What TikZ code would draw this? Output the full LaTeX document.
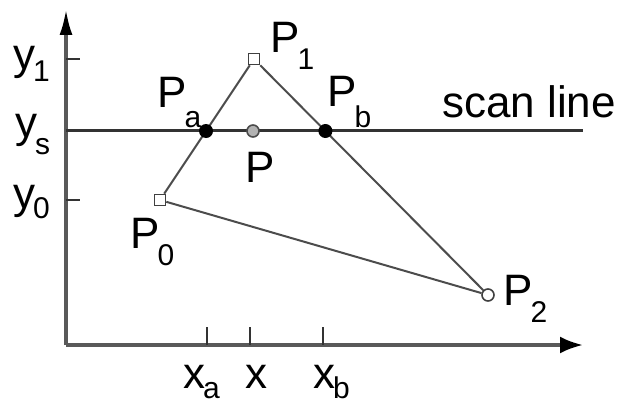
\documentclass[tikz,border=0pt]{standalone}
\usepackage{fontspec}
\setmainfont{Liberation Sans}
\usetikzlibrary{arrows.meta}
\newcommand\subsc[2]{\kern-2pt\raisebox{-#1pt}{\fontsize{30}{30}\selectfont #2}}
\begin{document}
\begin{tikzpicture}[x=1pt,y=-1pt,
  lbl/.style={anchor=base west,inner sep=0pt,font=\fontsize{44}{44}\selectfont},
  axis/.style={line width=3.5pt,draw=black!65},
  tick/.style={line width=2.5pt,draw=black!80},
  scanl/.style={line width=3pt,draw=black!80},
  edge/.style={line width=2pt,draw=black!70},
  vsq/.style={draw=black!75,line width=1.6pt,fill=white,rectangle,minimum size=11pt,inner sep=0pt},
  vci/.style={draw=black!75,line width=1.6pt,fill=white,circle,minimum size=12pt,inner sep=0pt},
  hit/.style={fill=black,circle,minimum size=14pt,inner sep=0pt},
  mid/.style={draw=black!70,line width=1.6pt,fill=black!30,circle,minimum size=12pt,inner sep=0pt}]
\useasboundingbox (0,0) rectangle (628,406);
% axes
\coordinate (O) at (66,345);
\coordinate (Ytop) at (66,9);
\coordinate (Xend) at (583,345);
\draw[axis,-{Latex[length=26pt,width=13pt,color=black]}] (O) -- (Ytop);
\draw[axis,-{Latex[length=23pt,width=17pt,color=black]}] (O) -- (Xend);
% scan line
\coordinate (S1) at (66,131);
\coordinate (S2) at (583,131);
\draw[scanl] (S1) -- (S2);
% triangle vertices
\coordinate (p0) at (160,200);
\coordinate (p1) at (254,59);
\coordinate (p2) at (488,295);
\coordinate (pa) at (intersection of p0--p1 and S1--S2);
\coordinate (pb) at (intersection of p1--p2 and S1--S2);
\coordinate (pm) at (253,131);
% y ticks
\coordinate (ty1) at (66,59); \coordinate (ty1e) at (80,59);
\coordinate (ty0) at (66,200); \coordinate (ty0e) at (80,200);
\draw[tick] (ty1) -- (ty1e);
\draw[tick] (ty0) -- (ty0e);
% x ticks
\coordinate (txa) at (207,345); \coordinate (txae) at (207,327);
\coordinate (tx) at (250,345); \coordinate (txe) at (250,327);
\coordinate (txb) at (323,345); \coordinate (txbe) at (323,327);
\draw[tick] (txa) -- (txae);
\draw[tick] (tx) -- (txe);
\draw[tick] (txb) -- (txbe);
% markers
\node[vsq] (P0) at (p0) {};
\node[vsq] (P1) at (p1) {};
\node[vci] (P2) at (p2) {};
\draw[edge] (P0) -- (P1);
\draw[edge] (P1) -- (P2);
\draw[edge] (P2) -- (P0);
\node[hit] (Pa) at (pa) {};
\node[hit] (Pb) at (pb) {};
\node[mid] (Pm) at (pm) {};
% labels
\node[lbl] (ly1) at (13,70) {y\subsc{12}{1}};
\node[lbl] (lys) at (15,138) {y\subsc{17}{s}};
\node[lbl] (ly0) at (13,208) {y\subsc{10}{0}};
\node[lbl] (lP1) at (270,53) {P\subsc{17}{1}};
\node[lbl] (lPa) at (157,108) {P\subsc{20}{a}};
\node[lbl] (lP) at (245,182) {P};
\node[lbl] (lPb) at (327,107) {P\subsc{21}{b}};
\node[lbl] (lP0) at (130,248) {P\subsc{17}{0}};
\node[lbl] (lP2) at (503,305) {P\subsc{17}{2}};
\node[lbl] (lxa) at (183,388) {x\subsc{10}{a}};
\node[lbl] (lx) at (245,388) {x};
\node[lbl] (lxb) at (313,388) {x\subsc{10}{b}};
\node[lbl] (lscan) at (442,118) {scan line};
\end{tikzpicture}
\end{document}
